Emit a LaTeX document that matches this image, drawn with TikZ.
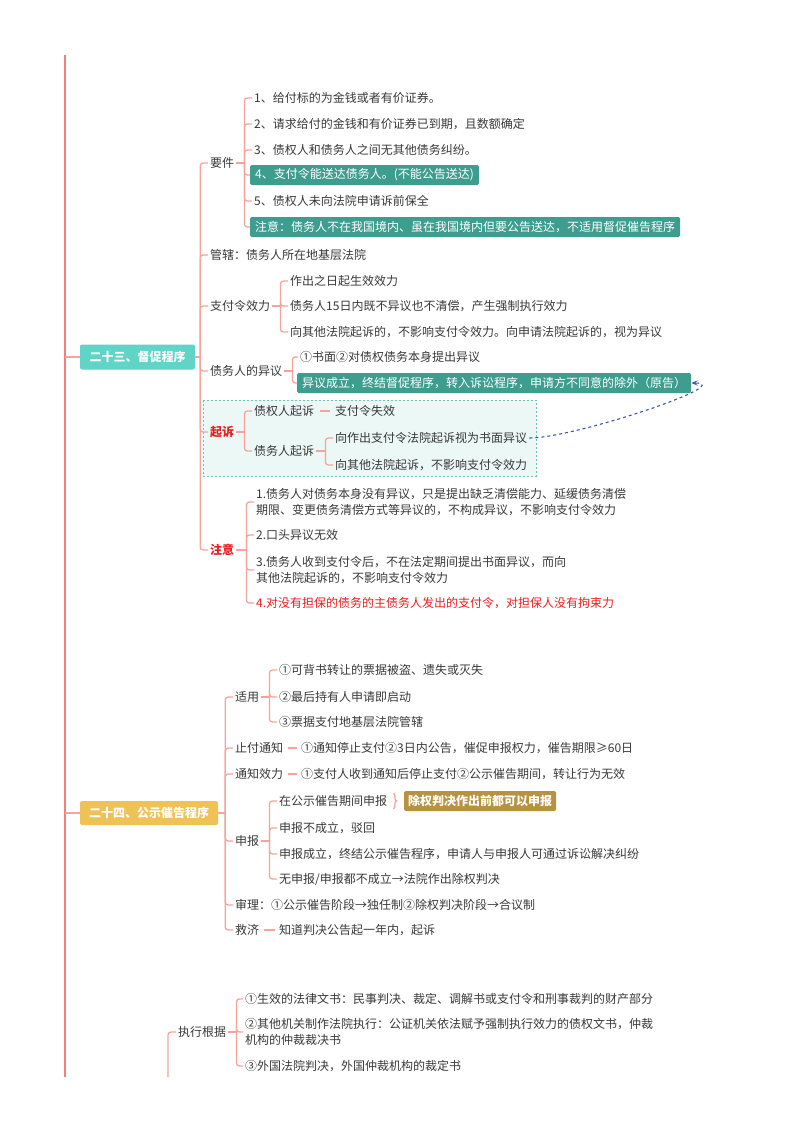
\documentclass[tikz,border=0pt]{standalone}
\usepackage{fontspec}
\setmainfont{Noto Sans CJK SC}
\usetikzlibrary{decorations.pathreplacing,arrows.meta}
\definecolor{mainRed}{HTML}{F47F78}
\definecolor{brPink}{HTML}{F6A49B}
\definecolor{txtGray}{HTML}{383838}
\definecolor{rootTeal}{HTML}{5FD4C7}
\definecolor{boxTeal}{HTML}{3D9E8F}
\definecolor{zoneTeal}{HTML}{6BC4B6}
\definecolor{zoneFill}{HTML}{ECF8F6}
\definecolor{rootGold}{HTML}{EFC257}
\definecolor{boxGold}{HTML}{B8923F}
\definecolor{noteRed}{HTML}{EE1C1C}
\definecolor{linkBlue}{HTML}{3A5AA6}

\begin{document}
\begin{tikzpicture}[x=1pt, y=-1pt,
    every node/.style={font=\fontsize{12}{16}\selectfont, text=txtGray},
    leaf/.style={anchor=west, inner sep=2pt, align=left},
    redlbl/.style={leaf, text=noteRed, font=\fontsize{12}{16}\selectfont\bfseries},
    tealbox/.style={anchor=west, fill=boxTeal, text=white, rounded corners=1.5pt,
      inner xsep=5pt, inner ysep=2pt, minimum height=20pt},
    goldbox/.style={tealbox, fill=boxGold, inner xsep=4pt, font=\fontsize{12}{16}\selectfont\bfseries},
    root/.style={fill=#1, text=white, rounded corners=2pt, inner xsep=9pt,
      font=\fontsize{12}{16}\selectfont\bfseries},
    br/.style={draw=brPink, line width=1.3pt, rounded corners=3pt},
    trunk/.style={draw=mainRed, line width=2.5pt}]
  \useasboundingbox (0,0) rectangle (800,1132);
  \coordinate (top) at (65,55);
  \coordinate (bot) at (65,1077);
  \draw[trunk] (top) -- (bot);

  \node[root=rootTeal, minimum width=115pt, minimum height=25pt] (r23) at (137.5,357) {二十三、督促程序};
  \draw[br] (r23.west -| top) -- (r23.west);
  \draw[zoneTeal, fill=zoneFill, line width=0.8pt, dash pattern=on 2pt off 2pt] (203,400) rectangle (536,476);
  \node[leaf] (yj) at (208,163) {要件};
  \node[leaf] (gx) at (208,255) {管辖：债务人所在地基层法院};
  \node[leaf] (xl) at (208,306) {支付令效力};
  \node[leaf] (yy) at (208,371) {债务人的异议};
  \node[redlbl] (qs) at (208,432) {起诉};
  \node[redlbl] (zy) at (208,550) {注意};
  \draw[br] (r23.east) -- ++(5,0) coordinate (r23b);
  \foreach \c in {yj,gx,xl,yy,qs,zy}
    \draw[br] (r23b) |- (\c.west);

  \foreach \n/\y/\t in {a1/98/{1、给付标的为金钱或者有价证券。},
      a2/124/{2、请求给付的金钱和有价证券已到期，且数额确定},
      a3/150/{3、债权人和债务人之间无其他债务纠纷。},
      a5/201/{5、债权人未向法院申请诉前保全}}
    \node[leaf] (\n) at (252,\y) {\t};
  \node[tealbox] (a4) at (250,175) {4、支付令能送达债务人。(不能公告送达)};
  \node[tealbox] (a6) at (250,227) {注意：债务人不在我国境内、虽在我国境内但要公告送达，不适用督促催告程序};
  \draw[br] (yj.east) -- ++(8,0) coordinate (yjb);
  \foreach \i in {1,...,6}
    \draw[br] (yjb) |- (a\i.west);

  \foreach \n/\y/\t in {b1/281/{作出之日起生效效力},
      b2/306/{债务人15日内既不异议也不清偿，产生强制执行效力},
      b3/332/{向其他法院起诉的，不影响支付令效力。向申请法院起诉的，视为异议}}
    \node[leaf] (\n) at (288,\y) {\t};
  \draw[br] (xl.east) -- ++(8,0) coordinate (xlb);
  \foreach \i in {1,2,3}
    \draw[br] (xlb) |- (b\i.west);

  \node[leaf] (c1) at (298,357) {①书面②对债权债务本身提出异议};
  \node[tealbox] (c2) at (297,383) {异议成立，终结督促程序，转入诉讼程序，申请方不同意的除外（原告）};
  \draw[br] (yy.east) -- ++(8,0) coordinate (yyb);
  \foreach \i in {1,2}
    \draw[br] (yyb) |- (c\i.west);

  \node[leaf] (d1) at (252,411) {债权人起诉};
  \node[leaf] (d2) at (252,451) {债务人起诉};
  \node[leaf] (d1x) at (333,411) {支付令失效};
  \draw[br] (qs.east) -- ++(8,0) coordinate (qsb);
  \foreach \i in {1,2}
    \draw[br] (qsb) |- (d\i.west);
  \draw[br, shorten <=4pt, shorten >=3pt] (d1.east) -- (d1x.west);
  \node[leaf] (e1) at (333,438) {向作出支付令法院起诉视为书面异议};
  \node[leaf] (e2) at (333,465) {向其他法院起诉，不影响支付令效力};
  \draw[br] (d2.east) -- ++(9,0) coordinate (d2b);
  \foreach \i in {1,2}
    \draw[br] (d2b) |- (e\i.west);
  \draw[linkBlue, dashed, line width=1.1pt, -{Stealth[length=6pt,width=5pt]}]
    (e1.east) .. controls (575,438) and (738,383) .. (c2.east);

  \foreach \n/\y/\t in {f1/502/{1.债务人对债务本身没有异议，只是提出缺乏清偿能力、延缓债务清偿\\期限、变更债务清偿方式等异议的，不构成异议，不影响支付令效力},
      f2/535/{2.口头异议无效},
      f3/570/{3.债务人收到支付令后，不在法定期间提出书面异议，而向\\其他法院起诉的，不影响支付令效力}}
    \node[leaf] (\n) at (254,\y) {\t};
  \node[leaf, text=noteRed] (f4) at (254,603) {4.对没有担保的债务的主债务人发出的支付令，对担保人没有拘束力};
  \draw[br] (zy.east) -- ++(10,0) coordinate (zyb);
  \foreach \i in {1,...,4}
    \draw[br] (zyb) |- (f\i.west);

  \node[root=rootGold, minimum width=138pt, minimum height=24pt] (r24) at (149,813) {二十四、公示催告程序};
  \draw[br] (r24.west -| top) -- (r24.west);
  \foreach \n/\y/\t in {g1/697/{适用}, g2/748/{止付通知}, g3/774/{通知效力}, g4/841/{申报},
      g5/905/{审理：①公示催告阶段→独任制②除权判决阶段→合议制}, g6/930/{救济}}
    \node[leaf] (\n) at (233,\y) {\t};
  \draw[br] (r24.east) -- ++(7,0) coordinate (r24b);
  \foreach \i in {1,...,6}
    \draw[br] (r24b) |- (g\i.west);

  \foreach \n/\y/\t in {h1/670/{①可背书转让的票据被盗、遗失或灭失},
      h2/697/{②最后持有人申请即启动}, h3/722/{③票据支付地基层法院管辖}}
    \node[leaf] (\n) at (277,\y) {\t};
  \draw[br] (g1.east) -- ++(8,0) coordinate (g1b);
  \foreach \i in {1,2,3}
    \draw[br] (g1b) |- (h\i.west);

  \node[leaf] (g2x) at (299,748) {①通知停止支付②3日内公告，催促申报权力，催告期限≥60日};
  \node[leaf] (g3x) at (299,774) {①支付人收到通知后停止支付②公示催告期间，转让行为无效};
  \node[leaf] (g6x) at (277,930) {知道判决公告起一年内，起诉};
  \foreach \a/\b in {g2/g2x, g3/g3x, g6/g6x}
    \draw[br, shorten <=3pt, shorten >=2pt] (\a.east) -- (\b.west);

  \foreach \n/\y/\t in {k1/801/{在公示催告期间申报}, k2/828/{申报不成立，驳回},
      k3/854/{申报成立，终结公示催告程序，申请人与申报人可通过诉讼解决纠纷},
      k4/879/{无申报/申报都不成立→法院作出除权判决}}
    \node[leaf] (\n) at (277,\y) {\t};
  \draw[br] (g4.east) -- ++(8,0) coordinate (g4b);
  \foreach \i in {1,...,4}
    \draw[br] (g4b) |- (k\i.west);
  \node[goldbox] (kbox) at (404,801) {除权判决作出前都可以申报};
  \draw[br, sharp corners, decorate, decoration={brace, amplitude=3pt}]
    ([xshift=4pt]k1.north east) -- ([xshift=4pt]k1.south east);

  \coordinate (cut3) at (168,1077);
  \node[leaf] (zx) at (176,1032) {执行根据};
  \draw[br] (cut3) |- (zx.west);
  \foreach \n/\y/\t in {m1/999/{①生效的法律文书：民事判决、裁定、调解书或支付令和刑事裁判的财产部分},
      m2/1032/{②其他机关制作法院执行：公证机关依法赋予强制执行效力的债权文书，仲裁\\机构的仲裁裁决书},
      m3/1066/{③外国法院判决，外国仲裁机构的裁定书}}
    \node[leaf] (\n) at (243,\y) {\t};
  \draw[br] (zx.east) -- ++(8,0) coordinate (zxb);
  \foreach \i in {1,2,3}
    \draw[br] (zxb) |- (m\i.west);
\end{tikzpicture}
\end{document}
